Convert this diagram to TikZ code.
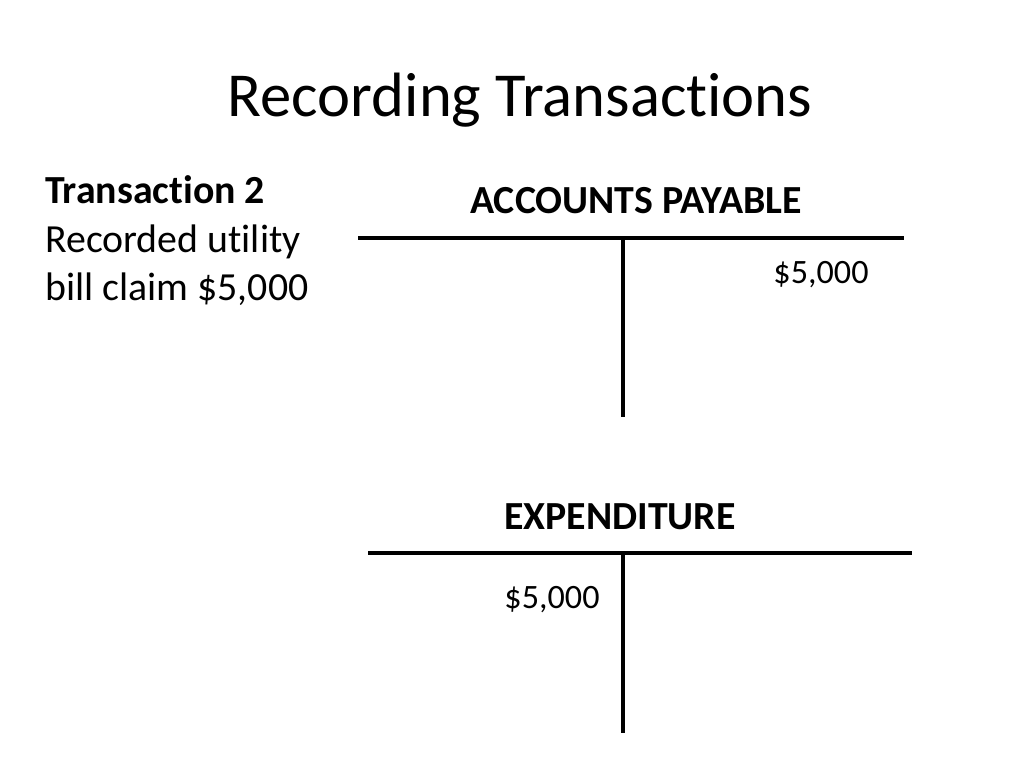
\documentclass[tikz,border=0pt]{standalone}
\usepackage{fontspec}
\setmainfont{Carlito}[Ligatures=NoCommon]
\begin{document}
\begin{tikzpicture}[x=0.703pt,y=-0.703pt,
  tline/.style={line width=2.2pt,black},
  lbl/.style={inner sep=0pt,anchor=base}]
\useasboundingbox (0,0) rectangle (1024,768);
\node[lbl] (title) at (520,116) {\fontsize{44}{53}\selectfont Recording Transactions};
\node[lbl,anchor=base west] (t2) at (45,203) {\fontsize{28}{34}\selectfont\textbf{Transaction 2}};
\node[lbl,anchor=base west] (t2b) at (45,252) {\fontsize{28}{34}\selectfont Recorded utility};
\node[lbl,anchor=base west] (t2c) at (45,300) {\fontsize{28}{34}\selectfont bill claim \$5,000};
\node[lbl] (ap) at (636,213) {\fontsize{28}{34}\selectfont\textbf{ACCOUNTS PAYABLE}};
\node[lbl] (apv) at (821,283) {\fontsize{24}{29}\selectfont \$5,000};
\node[lbl] (ex) at (620,529) {\fontsize{28}{34}\selectfont\textbf{EXPENDITURE}};
\node[lbl] (exv) at (552,608) {\fontsize{24}{29}\selectfont \$5,000};
\coordinate (a1) at (358,238);
\coordinate (a2) at (904,238);
\coordinate (a3) at (623,238);
\coordinate (a4) at (623,417);
\coordinate (e1) at (368,553);
\coordinate (e2) at (912,553);
\coordinate (e3) at (623,553);
\coordinate (e4) at (623,733);
\draw[tline] (a1) -- (a2);
\draw[tline] (a3) -- (a4);
\draw[tline] (e1) -- (e2);
\draw[tline] (e3) -- (e4);
\end{tikzpicture}
\end{document}
